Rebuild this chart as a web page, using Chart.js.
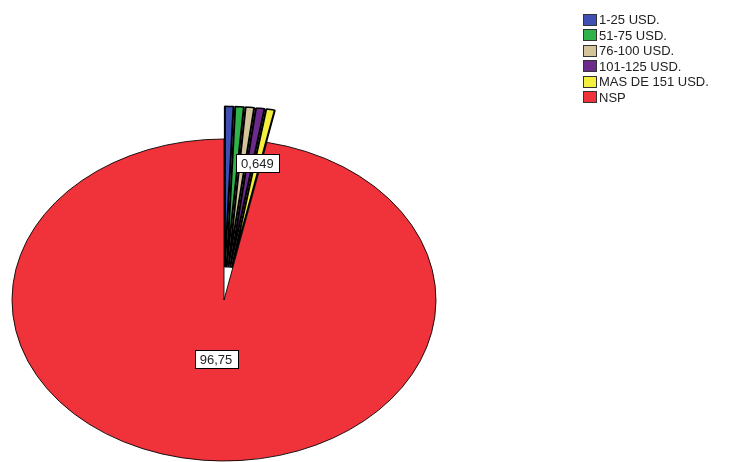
<!DOCTYPE html>
<html>
<head>
<meta charset="utf-8">
<script src="https://cdn.jsdelivr.net/npm/chart.js@4.4.1/dist/chart.umd.min.js"></script>
<style>
  html, body { margin: 0; padding: 0; background: #fff; overflow: hidden; }
  #wrap { width: 737px; height: 462px; position: relative; }
</style>
</head>
<body>
<div id="wrap"><canvas id="pie" width="737" height="462"></canvas></div>
<script>
// Datos del gráfico
const categories = ["1-25 USD.", "51-75 USD.", "76-100 USD.", "101-125 USD.", "MAS DE 151 USD.", "NSP"];
const percents = [0.649, 0.649, 0.649, 0.649, 0.649, 96.75];
const sliceColors = ["#3f4fb4", "#2fb24a", "#d3c49a", "#6b2a8c", "#f4ef3c", "#f0333b"];
// etiquetas visibles: índice de sector -> texto
const labelIdx = [4, 5];
const labelText = ["0,649", "96,75"];

// Estilo
const RX = 212, RY = 161;      // radios de la elipse
const EXPLODE = 43;             // desplazamiento de los sectores pequeños
const explodeFlags = [1, 1, 1, 1, 1, 0];
const labelFrac = [0.66, 0.37];

function toScreen(cx, cy, x, y) {
  return { x: x, y: cy + (y - cy) * (RY / RX) };
}

const ellipsePie = {
  id: "ellipsePie",
  beforeDatasetDraw(chart, args) {
    const ctx = chart.ctx;
    const meta = args.meta;
    meta.data.forEach((arc, i) => {
      const cx = arc.x, cy = arc.y;
      const mid = (arc.startAngle + arc.endAngle) / 2;
      const d = explodeFlags[i] ? EXPLODE : 0;
      ctx.save();
      ctx.translate(cx, cy);
      ctx.scale(1, RY / RX);
      ctx.translate(-cx, -cy);
      ctx.translate(Math.cos(mid) * d, Math.sin(mid) * d);
      arc.draw(ctx);
      ctx.restore();
    });
    return false;
  },
  afterDraw(chart) {
    const ctx = chart.ctx;
    const meta = chart.getDatasetMeta(0);
    ctx.save();
    ctx.font = "13px 'Liberation Sans', Arial, sans-serif";
    ctx.textAlign = "center";
    ctx.textBaseline = "middle";
    labelIdx.forEach((idx, k) => {
      const arc = meta.data[idx];
      const mid = (arc.startAngle + arc.endAngle) / 2;
      const d = (explodeFlags[idx] ? EXPLODE : 0) + arc.outerRadius * labelFrac[k];
      const p = toScreen(arc.x, arc.y, arc.x + Math.cos(mid) * d, arc.y + Math.sin(mid) * d);
      const w = ctx.measureText(labelText[k]).width + 10;
      const h = 18;
      ctx.fillStyle = "#fff";
      ctx.fillRect(Math.round(p.x - w / 2), Math.round(p.y - h / 2), Math.round(w), h);
      ctx.strokeStyle = "#000";
      ctx.lineWidth = 1;
      ctx.strokeRect(Math.round(p.x - w / 2) + 0.5, Math.round(p.y - h / 2) + 0.5, Math.round(w), h);
      ctx.fillStyle = "#222";
      ctx.fillText(labelText[k], p.x, p.y + 1);
    });

    // leyenda
    ctx.textAlign = "left";
    ctx.font = "13px 'Liberation Sans', Arial, sans-serif";
    categories.forEach((c, i) => {
      const y = 19.5 + i * 15.5;
      ctx.fillStyle = sliceColors[i];
      ctx.fillRect(583, Math.round(y - 6), 13, 11);
      ctx.strokeStyle = "#333";
      ctx.strokeRect(583.5, Math.round(y - 6) + 0.5, 13, 11);
      ctx.fillStyle = "#222";
      ctx.fillText(c, 599, y + 1);
    });
    ctx.restore();
  }
};

new Chart(document.getElementById("pie"), {
  type: "pie",
  data: {
    labels: categories,
    datasets: [{
      data: percents,
      backgroundColor: sliceColors,
      borderColor: "#000",
      borderWidth: [2, 2, 2, 2, 2, 1],
      borderAlign: "center"
    }]
  },
  options: {
    responsive: false,
    animation: false,
    radius: RX,
    layout: { padding: { left: 0, right: 737 - 448, top: 138, bottom: 0 } },
    plugins: {
      legend: { display: false },
      tooltip: { enabled: false }
    }
  },
  plugins: [ellipsePie]
});
</script>
</body>
</html>
